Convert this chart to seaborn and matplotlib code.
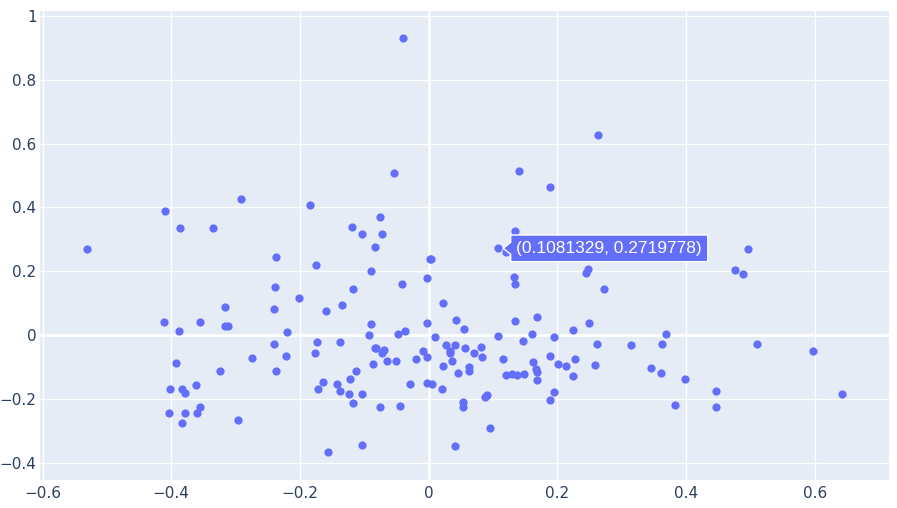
import numpy as np
import pandas as pd
import seaborn as sns
import matplotlib
matplotlib.use("Agg")
import matplotlib.pyplot as plt
from matplotlib.patches import Polygon
from matplotlib.transforms import IdentityTransform
from matplotlib.ticker import FixedLocator, FuncFormatter

x_vals = [
    -0.531, -0.410, -0.292, -0.387, -0.335, -0.317, -0.411, -0.356, -0.316, -0.312,
    -0.388, -0.392, -0.275, -0.324, -0.361, -0.402, -0.384, -0.378, -0.356, -0.403,
    -0.379, -0.360, -0.383, -0.296,
    -0.185, -0.075, -0.119, -0.103, -0.073, -0.084, -0.237, -0.175, 0.002, 0.004,
    -0.089, -0.002, -0.042, -0.238, -0.117, -0.202, 0.023, -0.241, -0.159, -0.135,
    -0.220, -0.089, -0.002, 0.042, -0.093, -0.047, -0.036, 0.010, -0.241, -0.173,
    -0.138, -0.176, -0.222, -0.084, -0.081, -0.069, -0.072, -0.064, -0.050, -0.086,
    -0.019, -0.009, -0.003, 0.027, 0.041, 0.033, 0.034, 0.036, 0.023, 0.046,
    -0.237, -0.113, -0.122, -0.164, -0.172, -0.143, -0.138, -0.124, -0.103, -0.118,
    -0.076, -0.045, -0.029, -0.002, 0.006, 0.021, -0.156, -0.104, 0.041,
    0.140, 0.189, 0.135, 0.1081329, 0.120, 0.132, 0.135, 0.244, 0.248, 0.272,
    0.055, 0.135, 0.168, 0.108, 0.160, 0.146, 0.195, 0.225, 0.249, 0.262,
    0.057, 0.071, 0.082, 0.083, 0.063, 0.063, 0.115, 0.162, 0.167, 0.169,
    0.169, 0.120, 0.129, 0.137, 0.148, 0.188, 0.201, 0.214, 0.227, 0.225,
    0.258, 0.087, 0.090, 0.054, 0.053, 0.195, 0.188, 0.095,
    0.496, 0.476, 0.489, 0.369, 0.315, 0.362, 0.510, 0.598, 0.345, 0.361,
    0.398, 0.447, 0.383, 0.447, 0.642,
    -0.039, 0.264, -0.053,
]
y_vals = [
    0.270, 0.390, 0.428, 0.335, 0.337, 0.087, 0.041, 0.041, 0.030, 0.030,
    0.014, -0.086, -0.073, -0.113, -0.155, -0.169, -0.168, -0.181, -0.225, -0.244,
    -0.244, -0.245, -0.276, -0.267,
    0.409, 0.371, 0.340, 0.318, 0.318, 0.275, 0.244, 0.220, 0.238, 0.239,
    0.201, 0.178, 0.160, 0.152, 0.146, 0.116, 0.101, 0.082, 0.077, 0.095,
    0.009, 0.035, 0.037, 0.046, 0.000, 0.002, 0.014, -0.007, -0.029, -0.021,
    -0.020, -0.057, -0.066, -0.041, -0.041, -0.047, -0.057, -0.082, -0.080, -0.089,
    -0.074, -0.051, -0.067, -0.031, -0.031, -0.049, -0.056, -0.082, -0.096, -0.118,
    -0.112, -0.111, -0.136, -0.146, -0.169, -0.152, -0.174, -0.185, -0.185, -0.213,
    -0.226, -0.223, -0.152, -0.151, -0.154, -0.170, -0.366, -0.343, -0.346,
    0.513, 0.464, 0.325, 0.2719778, 0.259, 0.181, 0.160, 0.194, 0.207, 0.146,
    0.018, 0.044, 0.058, -0.002, 0.005, -0.019, -0.006, 0.016, 0.039, -0.028,
    -0.039, -0.056, -0.038, -0.067, -0.100, -0.112, -0.074, -0.085, -0.107, -0.117,
    -0.141, -0.124, -0.123, -0.126, -0.122, -0.065, -0.090, -0.097, -0.075, -0.129,
    -0.093, -0.194, -0.189, -0.210, -0.225, -0.177, -0.203, -0.290,
    0.271, 0.204, 0.192, 0.005, -0.031, -0.029, -0.029, -0.049, -0.102, -0.118,
    -0.138, -0.175, -0.220, -0.226, -0.185,
    0.931, 0.628, 0.509,
]

x_ticks = [-0.6, -0.4, -0.2, 0.0, 0.2, 0.4, 0.6]
y_ticks = [-0.4, -0.2, 0.0, 0.2, 0.4, 0.6, 0.8, 1.0]
hover_x = 0.1081329
hover_y = 0.2719778
hover_text = "(0.1081329, 0.2719778)"

df = pd.DataFrame({"x": x_vals, "y": y_vals})

W, H = 897, 508
fig = plt.figure(figsize=(W / 100, H / 100), dpi=100)
ax = fig.add_axes([40 / W, 28 / H, 849 / W, 469 / H])
ax.set_facecolor("#E5ECF6")
for s in ax.spines.values():
    s.set_visible(False)

ax.set_xlim(-0.6039, 0.7155)
ax.set_ylim(-0.454, 1.0157)

ax.xaxis.set_major_locator(FixedLocator(x_ticks))
ax.yaxis.set_major_locator(FixedLocator(y_ticks))


def fmt(v, pos=None):
    if abs(v) < 1e-9:
        return "0"
    s = f"{v:g}"
    return s.replace("-", "\u2212")


ax.xaxis.set_major_formatter(FuncFormatter(fmt))
ax.yaxis.set_major_formatter(FuncFormatter(fmt))
ax.grid(True, color="white", linewidth=0.96)
ax.set_axisbelow(True)
ax.axhline(0, color="white", linewidth=1.92, zorder=1)
ax.axvline(0, color="white", linewidth=1.92, zorder=1)
ax.tick_params(axis="both", length=0, labelsize=11, colors="#2a3f5f")
ax.tick_params(axis="x", pad=4.5)
ax.tick_params(axis="y", pad=2.5)

sns.scatterplot(data=df, x="x", y="y", color="#636EFA", s=35, linewidth=0,
                ax=ax, zorder=3, legend=False)
ax.set_xlabel("")
ax.set_ylabel("")

# hover label
fig.canvas.draw()
renderer = fig.canvas.get_renderer()
px, py = ax.transData.transform((hover_x, hover_y))
t = ax.annotate(hover_text, xy=(hover_x, hover_y), xytext=(18, 0),
                textcoords="offset pixels", ha="left", va="center",
                color="white", fontsize=12.5, family="Liberation Sans", zorder=6)
fig.canvas.draw()
bb = t.get_window_extent(renderer)
x0 = px + 12.5
x1 = bb.x1 + 6
y0 = py - 13.3
y1 = py + 13.3
verts = [(px + 5, py), (x0, py + 6), (x0, y1), (x1, y1), (x1, y0), (x0, y0), (x0, py - 6)]
poly = Polygon(verts, closed=True, facecolor="#636EFA", edgecolor="white",
               linewidth=1.0, transform=IdentityTransform(), zorder=5)
ax.add_patch(poly)
poly.set_clip_on(False)

fig.savefig("out.png", dpi=100, facecolor="white")
